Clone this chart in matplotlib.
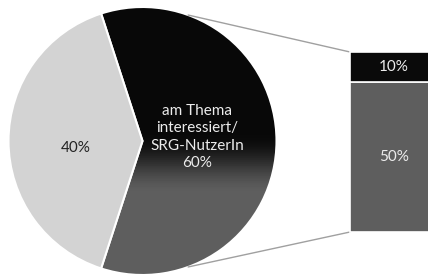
import numpy as np
import matplotlib
matplotlib.use("Agg")
import matplotlib.pyplot as plt

plt.rcParams['font.family'] = ['Lato', 'DejaVu Sans']

# data
pie_labels = ["am Thema\ninteressiert/\nSRG-NutzerIn\n60%", "40%"]
pie_values = [60, 40]
bar_labels = ["50%", "10%"]
bar_values = [50, 10]
bar_colors = ["#5e5e5e", "#0a0a0a"]

W, H = 428, 275
fig = plt.figure(figsize=(W / 100, H / 100), dpi=100)
ax = fig.add_axes([0, 0, 1, 1])

cx, cy, r = 142.5, 134, 134
wedges, _ = ax.pie(pie_values, startangle=-108, center=(cx, cy), radius=r,
                   colors=["none", "#d3d3d3"],
                   wedgeprops=dict(edgecolor="white", linewidth=1.5))

# vertical gradient inside the big slice (black top -> grey bottom)
ys = np.arange(H)
pix_y = H - ys
t = np.clip((pix_y - 135) / 60, 0, 1)
t = t * t * (3 - 2 * t)
g = 0.035 + t * (0.37 - 0.035)
img = np.repeat(g[:, None], 2, axis=1)
im = ax.imshow(img, cmap="gray", vmin=0, vmax=1, origin="lower",
               extent=(0, W, 0, H), aspect="auto", zorder=0.5)
im.set_clip_path(wedges[0])
wedges[0].set_zorder(1)
wedges[1].set_zorder(1)

ax.text(cx + 0.41 * r, cy + 0.03 * r, pie_labels[0], ha="center", va="center",
        color="#ececec", fontsize=11, linespacing=1.3)
ax.text(cx - 0.50 * r, cy - 0.05 * r, pie_labels[1], ha="center", va="center",
        color="#222222", fontsize=11)

# stacked bar of the split slice
scale = 3.0
bx, bw, b0 = 350, 88, 43
bottom = b0
for val, col, lab in zip(bar_values, bar_colors, bar_labels):
    ax.bar(bx, val * scale, width=bw, bottom=bottom, align="edge",
           color=col, edgecolor="white", linewidth=1.2, zorder=2)
    ax.text(bx + bw / 2, bottom + val * scale / 2, lab, ha="center",
            va="center", color="#ececec", fontsize=11, zorder=3)
    bottom += val * scale
top = bottom

# connector lines
for ang, yb in [(70, top), (-70, b0)]:
    a = np.deg2rad(ang)
    ax.plot([cx + r * np.cos(a), bx], [cy + r * np.sin(a), yb],
            color="#a0a0a0", linewidth=1, zorder=1.5)

ax.set_xlim(0, W)
ax.set_ylim(0, H)
ax.set_aspect("auto")
ax.axis("off")

fig.savefig("out.png", dpi=100)
